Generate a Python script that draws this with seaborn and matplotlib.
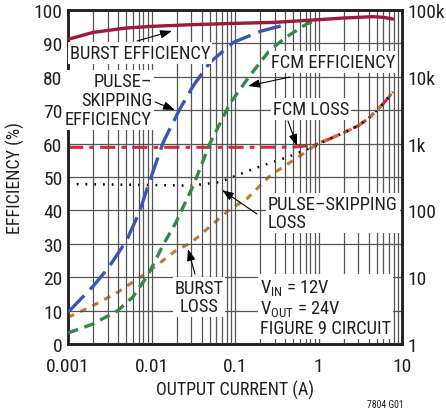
import matplotlib
matplotlib.use("Agg")
import matplotlib.pyplot as plt
from matplotlib import font_manager
import seaborn as sns
import numpy as np
import pandas as pd
from matplotlib.ticker import FixedLocator, NullFormatter, LogLocator

# ---- data ----
burst_eff_x = [0.001, 0.002, 0.005, 0.01, 0.03, 0.1, 0.3, 1.0, 2.0, 4.5, 6.0, 7.8]
burst_eff_y = [91.2, 93.3, 94.6, 95.1, 95.6, 96.0, 96.3, 97.1, 97.6, 98.0, 97.8, 97.3]

ps_eff_x = [0.001, 0.002, 0.003, 0.00394, 0.005, 0.00714, 0.009, 0.0096, 0.0138, 0.0219, 0.0316, 0.05, 0.0955, 0.2, 0.376]
ps_eff_y = [9.5, 17.3, 22.6, 27.0, 30.9, 39.4, 47.0, 49.0, 60.4, 70.4, 77.3, 84.3, 90.3, 93.6, 95.4]

fcm_eff_x = [0.001, 0.002, 0.00394, 0.00594, 0.009, 0.0136, 0.0196, 0.0316, 0.05, 0.087, 0.15, 0.262, 0.418, 0.72, 0.95]
fcm_eff_y = [3.3, 6.0, 10.0, 14.0, 20.5, 29.4, 36.4, 47.4, 60.0, 72.0, 80.3, 88.0, 92.0, 95.8, 97.0]

fcm_loss_x = [0.001, 0.01, 0.1, 0.5, 0.9, 1.2, 2.0, 3.0, 4.0, 5.9, 7.8]
fcm_loss_y = [880, 880, 880, 885, 950, 1100, 1450, 1860, 2400, 3900, 5900]

ps_loss_x = [0.001, 0.01, 0.03, 0.066, 0.164, 0.418, 0.95, 1.2, 2.0, 3.0, 4.0, 5.9, 7.8]
ps_loss_y = [248, 240, 234, 266, 417, 624, 930, 1100, 1450, 1860, 2400, 3900, 5900]

burst_loss_x = [0.001, 0.002, 0.00394, 0.009, 0.0196, 0.03, 0.087, 0.138, 0.262, 0.65, 1.0, 2.0, 3.0, 4.0, 5.9, 7.8]
burst_loss_y = [2.51, 3.76, 5.96, 11.9, 25.1, 33.0, 104, 148, 330, 700, 1020, 1450, 1860, 2400, 3900, 5900]

x_ticks = [0.001, 0.01, 0.1, 1, 10]
x_tick_labels = ["0.001", "0.01", "0.1", "1", "10"]
y_ticks = list(range(0, 101, 10))
y2_ticks = [1, 10, 100, 1000, 10000, 100000]
y2_tick_labels = ["1", "10", "100", "1k", "10k", "100k"]

# ---- style ----
sns.set_style("white")
names = sorted({f.name for f in font_manager.fontManager.ttflist})
cond = [n for n in names if ("Narrow" in n or "Condensed" in n) and "Mono" not in n]
pref = ["Liberation Sans Narrow", "Roboto Condensed", "Open Sans Condensed", "Noto Sans Condensed",
        "DejaVu Sans Condensed"]
cfont = None
for p in pref:
    if p in cond:
        cfont = p
        break
if cfont is None and cond:
    cfont = cond[0]
if cfont is None:
    FONT = ["Roboto", "Liberation Sans", "DejaVu Sans"]
    scale = 0.8
else:
    FONT = [cfont, "Liberation Sans", "DejaVu Sans"]
    scale = 1.0 if "Narrow" in cfont else 0.95
plt.rcParams["font.family"] = FONT
TXT = "#231f20"

fig = plt.figure(figsize=(4.46, 4.14), dpi=100)
ax = fig.add_axes([68/446, 1-345/414, (402-68)/446, (345-11)/414])
ax2 = ax.twinx()

c_burst = "#9c1a3a"
c_blue = "#3a55b4"
c_green = "#2e8b45"
c_red = "#e8202f"
c_orange = "#c87a2e"

def df(x, y):
    return pd.DataFrame({"x": x, "y": y})

sns.lineplot(data=df(burst_eff_x, burst_eff_y), x="x", y="y", ax=ax, color=c_burst, lw=2.4, zorder=5)
sns.lineplot(data=df(ps_eff_x, ps_eff_y), x="x", y="y", ax=ax, color=c_blue, lw=2.4, zorder=4)
ax.lines[-1].set_dashes([7, 2.5])
sns.lineplot(data=df(fcm_eff_x, fcm_eff_y), x="x", y="y", ax=ax, color=c_green, lw=2.4, zorder=4)
ax.lines[-1].set_dashes([3.2, 2])

sns.lineplot(data=df(fcm_loss_x, fcm_loss_y), x="x", y="y", ax=ax2, color=c_red, lw=2.2, zorder=3)
ax2.lines[-1].set_dashes([5, 2, 1.5, 2])
sns.lineplot(data=df(burst_loss_x, burst_loss_y), x="x", y="y", ax=ax2, color=c_orange, lw=2.2, zorder=3)
ax2.lines[-1].set_dashes([2.2, 2.2])
sns.lineplot(data=df(ps_loss_x, ps_loss_y), x="x", y="y", ax=ax2, color="black", lw=1.8, zorder=4)
ax2.lines[-1].set_dashes([0.7, 2.8])

ax.set_xscale("log")
ax.set_xlim(0.001, 10)
ax.set_ylim(0, 100)
ax2.set_yscale("log")
ax2.set_ylim(1, 100000)

ax.set_xticks(x_ticks)
ax.set_xticklabels(x_tick_labels)
ax.xaxis.set_minor_locator(LogLocator(base=10, subs=np.arange(2, 10)))
ax.xaxis.set_minor_formatter(NullFormatter())
ax.set_yticks(y_ticks)
ax2.set_yticks(y2_ticks)
ax2.set_yticklabels(y2_tick_labels)
ax2.yaxis.set_minor_locator(FixedLocator([]))

ax.grid(True, which="both", axis="x", color="#555555", lw=0.9)
ax.grid(True, which="major", axis="y", color="#555555", lw=0.9)
ax.set_axisbelow(True)
tick_fs = 13 if cfont is None else 14
for a in (ax, ax2):
    a.tick_params(axis="both", which="both", length=0, labelsize=tick_fs, colors=TXT, pad=4)
    for s in a.spines.values():
        s.set_color(TXT)
        s.set_linewidth(1.8)
ax.tick_params(axis="x", pad=9)
ax.set_zorder(ax2.get_zorder() + 1)
ax.patch.set_visible(False)

lab_fs = 13 * (0.88 if cfont is None else 1.0)
ax.set_xlabel("OUTPUT CURRENT (A)", fontsize=lab_fs, color=TXT, labelpad=4)
ax.set_ylabel("EFFICIENCY (%)", fontsize=lab_fs, color=TXT, labelpad=6)
ax2.set_ylabel("")
ax2.set_xlabel("")

bb = dict(boxstyle="square,pad=0.1", fc="white", ec="none")
fs = 14 * scale

def px2data(px, py):
    lx = -3 + (px - 68) / 83.5
    return 10 ** lx, (345 - py) / 3.34

def label(text, px, py, ha="center", tail=None, head=None):
    x, y = px2data(px, py)
    ax.text(x, y, text, ha=ha, va="center", fontsize=fs, color=TXT, bbox=bb, zorder=10,
            linespacing=1.05)
    if tail is not None:
        ax.annotate("", xy=px2data(*head), xytext=px2data(*tail),
                    arrowprops=dict(arrowstyle="-|>,head_length=0.7,head_width=0.25",
                                    color="black", lw=0.8, shrinkA=0, shrinkB=0), zorder=11)

label("BURST EFFICIENCY", 140, 54, tail=(137, 42), head=(172, 32))
label("PULSE–\nSKIPPING\nEFFICIENCY", 152, 101, ha="right", tail=(155, 103), head=(175, 111))
label("FCM EFFICIENCY", 333, 63, tail=(290, 78), head=(248, 87))
label("FCM LOSS", 311, 110, tail=(288, 122), head=(297, 147))
label("PULSE–SKIPPING\nLOSS", 268, 214, ha="left", tail=(257, 215), head=(222, 191))
label("BURST\nLOSS", 199, 298, tail=(195, 275), head=(188, 250))
label("V$_{\\mathregular{IN}}$ = 12V\nV$_{\\mathregular{OUT}}$ = 24V\nFIGURE 9 CIRCUIT", 260, 308, ha="left")

fig.text(385/446, 1-405/414, "7804 G01", fontsize=7, color=TXT, ha="center", va="center")

fig.savefig("out.png", dpi=100)
